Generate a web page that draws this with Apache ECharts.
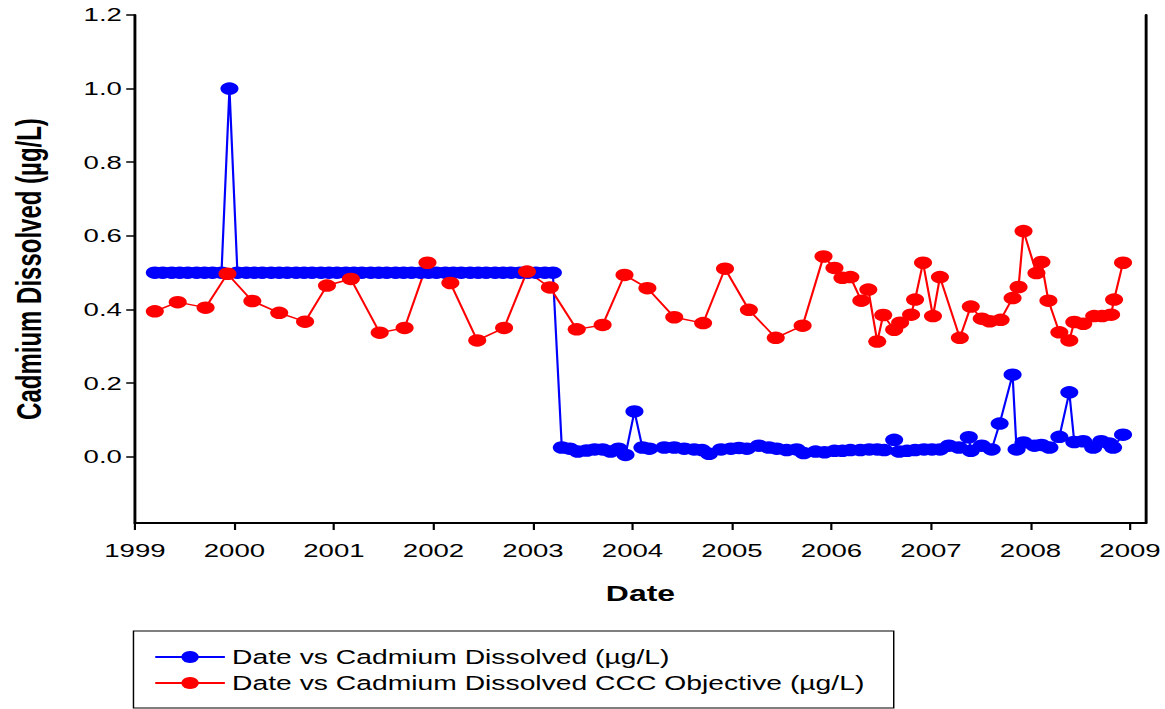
<!DOCTYPE html>
<html>
<head>
<meta charset="utf-8">
<title>Cadmium Dissolved</title>
<script src="https://cdn.jsdelivr.net/npm/echarts@6/dist/echarts.min.js"></script>
<style>
html, body { margin: 0; padding: 0; background: #fff; overflow: hidden; }
/* the source picture is stretched sideways, so the chart is drawn narrow and widened */
#main { width: 803px; height: 709px; transform: scaleX(1.4508); transform-origin: 0 0; }
</style>
</head>
<body>
<div id="main"></div>
<script>
// tick labels
var xTicks = [1999, 2000, 2001, 2002, 2003, 2004, 2005, 2006, 2007, 2008, 2009];
var yTicks = [0, 0.2, 0.4, 0.6, 0.8, 1.0, 1.2];

// Date vs Cadmium Dissolved (ug/L)
var blueYears = [
	1999.20, 1999.28, 1999.37, 1999.45, 1999.53, 1999.62, 1999.70, 1999.78, 1999.87, 1999.95,
	2000.03, 2000.12, 2000.20, 2000.28, 2000.37, 2000.45, 2000.53, 2000.62, 2000.70, 2000.78,
	2000.87, 2000.95, 2001.03, 2001.12, 2001.20, 2001.28, 2001.37, 2001.45, 2001.53, 2001.62,
	2001.70, 2001.78, 2001.87, 2001.95, 2002.03, 2002.12, 2002.20, 2002.28, 2002.37, 2002.45,
	2002.53, 2002.62, 2002.70, 2002.78, 2002.87, 2002.95, 2003.03, 2003.12, 2003.20,
	2003.29, 2003.37, 2003.45, 2003.54, 2003.62, 2003.70, 2003.78, 2003.86, 2003.93, 2004.02,
	2004.10, 2004.17, 2004.32, 2004.42, 2004.52, 2004.62, 2004.70, 2004.77, 2004.89, 2004.99,
	2005.07, 2005.15, 2005.27, 2005.37, 2005.45, 2005.55, 2005.65, 2005.72, 2005.84, 2005.93,
	2006.03, 2006.11, 2006.19, 2006.29, 2006.38, 2006.46, 2006.53, 2006.63, 2006.68, 2006.76,
	2006.84, 2006.93, 2007.01, 2007.09, 2007.18, 2007.28, 2007.38, 2007.40, 2007.51, 2007.61,
	2007.69, 2007.82, 2007.86, 2007.93, 2008.04, 2008.11, 2008.19, 2008.29, 2008.39, 2008.44,
	2008.53, 2008.63, 2008.71, 2008.79, 2008.83, 2008.93
];
var blueValues = [
	0.5, 0.5, 0.5, 0.5, 0.5, 0.5, 0.5, 0.5, 0.5, 1.0,
	0.5, 0.5, 0.5, 0.5, 0.5, 0.5, 0.5, 0.5, 0.5, 0.5,
	0.5, 0.5, 0.5, 0.5, 0.5, 0.5, 0.5, 0.5, 0.5, 0.5,
	0.5, 0.5, 0.5, 0.5, 0.5, 0.5, 0.5, 0.5, 0.5, 0.5,
	0.5, 0.5, 0.5, 0.5, 0.5, 0.5, 0.5, 0.5, 0.5,
	0.025, 0.022, 0.014, 0.017, 0.020, 0.020, 0.014, 0.022, 0.005, 0.123,
	0.025, 0.022, 0.025, 0.025, 0.022, 0.020, 0.018, 0.008, 0.020, 0.022,
	0.024, 0.022, 0.030, 0.025, 0.022, 0.018, 0.020, 0.010, 0.014, 0.012,
	0.016, 0.016, 0.018, 0.018, 0.020, 0.020, 0.018, 0.046, 0.014, 0.016,
	0.018, 0.020, 0.020, 0.020, 0.030, 0.025, 0.053, 0.016, 0.030, 0.020,
	0.090, 0.223, 0.020, 0.039, 0.030, 0.032, 0.025, 0.054, 0.175, 0.040,
	0.042, 0.025, 0.042, 0.036, 0.025, 0.060
];

// Date vs Cadmium Dissolved CCC Objective (ug/L)
var redYears = [
	1999.20, 1999.43, 1999.71, 1999.93, 2000.18, 2000.45, 2000.71, 2000.93, 2001.17, 2001.46,
	2001.71, 2001.94, 2002.17, 2002.44, 2002.71, 2002.94, 2003.17, 2003.44, 2003.70, 2003.92,
	2004.15, 2004.42, 2004.71, 2004.93, 2005.17, 2005.44, 2005.71, 2005.92, 2006.03, 2006.11,
	2006.19, 2006.30, 2006.37, 2006.46, 2006.52, 2006.63, 2006.69, 2006.80, 2006.84, 2006.92,
	2007.02, 2007.09, 2007.29, 2007.40, 2007.51, 2007.59, 2007.70, 2007.82, 2007.88, 2007.93,
	2008.06, 2008.11, 2008.18, 2008.29, 2008.39, 2008.44, 2008.53, 2008.64, 2008.72, 2008.81,
	2008.84, 2008.93
];
var redValues = [
	0.395, 0.420, 0.405, 0.497, 0.423, 0.391, 0.367, 0.465, 0.483, 0.337,
	0.350, 0.527, 0.472, 0.316, 0.350, 0.503, 0.460, 0.346, 0.358, 0.494,
	0.458, 0.379, 0.363, 0.511, 0.399, 0.323, 0.356, 0.544, 0.513, 0.486,
	0.488, 0.424, 0.454, 0.313, 0.385, 0.345, 0.364, 0.386, 0.427, 0.527,
	0.382, 0.488, 0.323, 0.408, 0.375, 0.368, 0.372, 0.431, 0.461, 0.613,
	0.499, 0.529, 0.424, 0.338, 0.316, 0.366, 0.361, 0.382, 0.382, 0.386,
	0.427, 0.527
];

var FONT = '"Liberation Sans", Arial, sans-serif';

function pairs(xs, ys) {
	var out = [];
	for (var i = 0; i < xs.length; i++) {
		out.push([xs[i], ys[i]]);
	}
	return out;
}

var myChart = echarts.init(document.getElementById('main'), null, { renderer: 'svg' });
myChart.setOption({
	animation: false,
	backgroundColor: '#fff',
	textStyle: { fontFamily: FONT, color: '#000' },
	grid: { left: 92, right: 10, top: 15, bottom: 186 },
	legend: {
		orient: 'vertical',
		left: 92,
		top: 631,
		padding: [16, 20, 15, 14],
		itemWidth: 48,
		itemHeight: 15,
		itemGap: 6,
		borderColor: '#000',
		borderWidth: 1,
		textStyle: { fontFamily: FONT, fontSize: 19.5, color: '#000', lineHeight: 20 },
		data: ['Date vs Cadmium Dissolved (µg/L)', 'Date vs Cadmium Dissolved CCC Objective (µg/L)']
	},
	xAxis: {
		type: 'value',
		min: 1999,
		max: 2009.16,
		name: 'Date',
		nameLocation: 'middle',
		nameGap: 59,
		nameTextStyle: { fontFamily: FONT, fontSize: 22, fontWeight: 'bold', color: '#000' },
		axisLine: { show: true, onZero: false, lineStyle: { color: '#000', width: 2 } },
		axisTick: { show: true, length: 7, customValues: xTicks, lineStyle: { color: '#000', width: 1.5 } },
		axisLabel: {
			margin: 18, fontSize: 19, color: '#000', fontFamily: FONT, customValues: xTicks,
			formatter: function(v) { return String(Math.round(v)); }
		},
		splitLine: { show: false }
	},
	yAxis: [
		{
			type: 'value',
			min: -0.18,
			max: 1.2,
			name: 'Cadmium Dissolved (µg/L)',
			nameLocation: 'middle',
			nameGap: 61,
			nameTextStyle: { fontFamily: FONT, fontSize: 24, fontWeight: 'bold', color: '#000' },
			axisLine: { show: true, onZero: false, lineStyle: { color: '#000', width: 2 } },
			axisTick: { show: true, length: 6, customValues: yTicks, lineStyle: { color: '#000', width: 1.5 } },
			axisLabel: {
				margin: 9, fontSize: 19, color: '#000', fontFamily: FONT, customValues: yTicks,
				formatter: function(v) { return v.toFixed(1); }
			},
			splitLine: { show: false }
		},
		{
			// right frame line
			type: 'value',
			position: 'right',
			min: -0.18,
			max: 1.2,
			axisLine: { show: true, lineStyle: { color: '#000', width: 2 } },
			axisTick: { show: false },
			axisLabel: { show: false },
			splitLine: { show: false }
		}
	],
	series: [
		{
			name: 'Date vs Cadmium Dissolved (µg/L)',
			type: 'line',
			data: pairs(blueYears, blueValues),
			symbol: 'circle',
			symbolSize: 12.5,
			color: '#0000ff',
			itemStyle: { color: '#0000ff' },
			lineStyle: { color: '#0000ff', width: 1.5 }
		},
		{
			name: 'Date vs Cadmium Dissolved CCC Objective (µg/L)',
			type: 'line',
			data: pairs(redYears, redValues),
			symbol: 'circle',
			symbolSize: 12.5,
			color: '#ff0000',
			itemStyle: { color: '#ff0000' },
			lineStyle: { color: '#ff0000', width: 1.5 }
		}
	]
});
</script>
</body>
</html>
